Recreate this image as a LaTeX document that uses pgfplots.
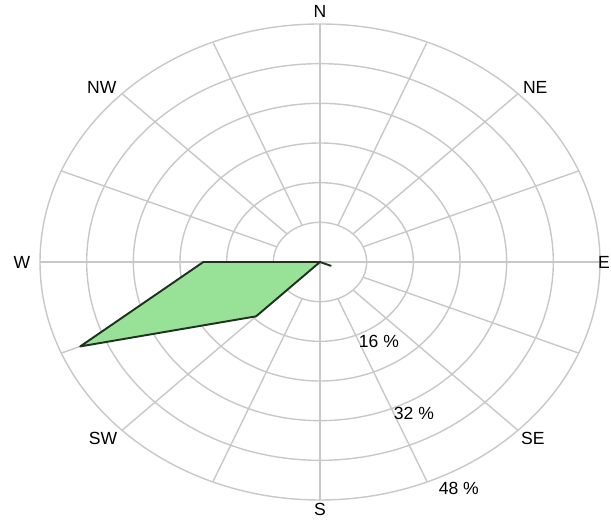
\documentclass[border=0pt]{standalone}
\usepackage{pgfplots}
\pgfplotsset{compat=1.18}
\usepackage{pgfplotstable}
\usepackage{fontspec}
\setmainfont{Liberation Sans}

\definecolor{gridgray}{RGB}{200,200,200}
\definecolor{petal}{RGB}{152,226,152}
\definecolor{petaledge}{RGB}{30,50,30}

% bearing (deg from N, clockwise) and share of hours in %
\pgfplotstableread{
bearing pct
0      0
22.5   0
45     0
67.5   0
90     0
112.5  2
135    0
157.5  0
180    0
202.5  0
225    15.5
247.5  44.5
270    20
292.5  0
315    0
337.5  0
360    0
}\windtable

\begin{document}
\begin{tikzpicture}
\begin{axis}[
    scale only axis,
    width=12.22cm, height=10.44cm,
    xmin=-54.86, xmax=49.89,
    ymin=-52.44, ymax=52.84,
    hide axis,
    clip=false,
    every node/.style={font=\fontsize{11}{13}\selectfont, text=black!90},
]
% rings every 8 %
\pgfplotsinvokeforeach{8,16,24,32,40,48}{
    \draw[gridgray, line width=0.8pt] (axis cs:0,0) ellipse [x radius=#1, y radius=#1];
}
% spokes
\pgfplotsinvokeforeach{22.5,45,67.5,112.5,135,157.5,202.5,225,247.5,292.5,315,337.5}{
    \draw[gridgray, line width=0.8pt] (axis cs:{8*cos(#1)},{8*sin(#1)}) -- (axis cs:{48*cos(#1)},{48*sin(#1)});
}
\draw[gridgray, line width=0.8pt] (axis cs:-48,0) -- (axis cs:48,0);
\draw[gridgray, line width=0.8pt] (axis cs:0,-48) -- (axis cs:0,48);

\addplot[draw=petaledge, fill=petal, line width=1.1pt, line join=round]
    table[x expr={\thisrow{pct}*sin(\thisrow{bearing})}, y expr={\thisrow{pct}*cos(\thisrow{bearing})}] {\windtable} -- cycle;

% compass labels
\node at (axis cs:0,50.6) {N};
\node at (axis cs:0,-50.0) {S};
\node at (axis cs:-51.1,0) {W};
\node[anchor=east, inner xsep=0.5pt] at (axis cs:49.89,0) {E};
\node at (axis cs:-37.4,35.3) {NW};
\node at (axis cs:36.9,35.3) {NE};
\node at (axis cs:-37.2,-35.5) {SW};
\node at (axis cs:36.5,-35.5) {SE};
% ring labels
\node at (axis cs:10.1,-16.1) {16 \%};
\node at (axis cs:16.1,-30.5) {32 \%};
\node at (axis cs:23.8,-45.6) {48 \%};
\end{axis}
\pgfresetboundingbox
\path (current axis.south west) rectangle (current axis.north east);
\end{tikzpicture}
\end{document}
